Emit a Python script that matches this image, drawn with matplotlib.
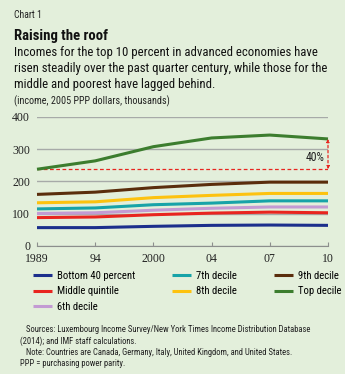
import matplotlib
matplotlib.use('Agg')
import matplotlib.pyplot as plt
from matplotlib import font_manager

years = ['1989', '94', '2000', '04', '07', '10']
series_names = ['Bottom 40 percent', 'Middle quintile', '6th decile',
                '7th decile', '8th decile', '9th decile', 'Top decile']
bottom40 = [57, 57, 61, 64, 65, 64]
middle_q = [88, 90, 97, 102, 105, 103]
decile6 = [101, 103, 111, 117, 121, 121]
decile7 = [115, 118, 128, 133, 140, 140]
decile8 = [134, 137, 150, 157, 163, 163]
decile9 = [160, 167, 181, 191, 198, 198]
top_decile = [238, 264, 308, 335, 344, 332]
series_values = [bottom40, middle_q, decile6, decile7, decile8, decile9, top_decile]
colors = ['#1c2f8c', '#e8251f', '#c39bd3', '#17a3a8', '#fdc20f', '#5a2d0c', '#3c7d2e']
yticks = [0, 100, 200, 300, 400]

bg = '#e3efdb'

names = {f.name for f in font_manager.fontManager.ttflist}


def pick(options):
    for o in options:
        if o in names:
            return o
    return 'DejaVu Sans'


narrow = pick(['Roboto Condensed', 'Archivo Narrow', 'PT Sans Narrow',
               'Liberation Sans Narrow'])
serif = pick(['Roboto Slab', 'Liberation Serif'])

W, H = 345, 374
fig = plt.figure(figsize=(W / 100, H / 100), dpi=100, facecolor=bg)
ax = fig.add_axes([37 / W, 1 - 246 / H, 291 / W, 129 / H])
ax.set_facecolor(bg)

x = list(range(len(years)))
for name, vals, c in zip(series_names, series_values, colors):
    ax.plot(x, vals, color=c, lw=2.2, label=name, solid_capstyle='butt', clip_on=False)

# 40% bracket
ax.axhline(top_decile[0], color='#e8251f', lw=0.9, ls=(0, (3, 2)), zorder=1)
ax.annotate('', xy=(x[-1], top_decile[-1]), xytext=(x[-1], top_decile[0]),
            arrowprops=dict(arrowstyle='<|-|>', color='#e8251f', lw=0.9,
                            ls=(0, (2, 2)), mutation_scale=4, shrinkA=0, shrinkB=0))
ax.text(x[-1] - 0.06, 274, '40%', ha='right', va='center', fontsize=8.5,
        family=narrow, color='#222222')

ax.set_xlim(0, len(years) - 1)
ax.set_ylim(0, 400)
ax.set_yticks(yticks)
ax.set_xticks(x)
ax.set_xticklabels(years)
ax.grid(axis='y', color='#a7aaa8', lw=1.0)
ax.set_axisbelow(True)
for s in ['top', 'right', 'left']:
    ax.spines[s].set_visible(False)
ax.spines['bottom'].set_color('#8c8f8d')
ax.tick_params(axis='y', length=0, pad=5, labelsize=8.5, labelcolor='#222222')
ax.tick_params(axis='x', direction='in', length=3, color='#8c8f8d', pad=5,
               labelsize=8.5, labelcolor='#222222')
for lab in ax.get_xticklabels() + ax.get_yticklabels():
    lab.set_family(serif)

fig.legend(loc='upper left', bbox_to_anchor=(33 / W, 1 - 271 / H), ncol=3,
           frameon=False, handlelength=1.75, handletextpad=0.45,
           columnspacing=3.5, labelspacing=0.5, borderaxespad=0, borderpad=0,
           prop={'family': narrow, 'size': 7.7})

renderer = fig.canvas.get_renderer()


def fit(t, width_px):
    # shrink/grow a text block so its width matches the reference
    w = t.get_window_extent(renderer).width
    t.set_fontsize(t.get_fontsize() * width_px / w)


fig.text(14 / W, 1 - 15 / H, 'Chart 1', fontsize=7, family=narrow,
         va='center', color='#222222')
t = fig.text(14 / W, 1 - 36 / H, 'Raising the roof', fontsize=12, weight='bold',
             family=narrow, va='center', color='#111111')
fit(t, 94)
t = fig.text(14 / W, 1 - 68.5 / H,
             'Incomes for the top 10 percent in advanced economies have\n'
             'risen steadily over the past quarter century, while those for the\n'
             'middle and poorest have lagged behind.',
             fontsize=9.5, family=narrow, va='center', linespacing=1.3, color='#111111')
fit(t, 316)
t = fig.text(14 / W, 1 - 101 / H, '(income, 2005 PPP dollars, thousands)',
             fontsize=7.5, family=narrow, va='center', color='#222222')
fit(t, 154)
t = fig.text(20 / W, 1 - 346.5 / H,
             '   Sources: Luxembourg Income Survey/New York Times Income Distribution Database\n'
             '(2014); and IMF staff calculations.\n'
             '   Note: Countries are Canada, Germany, Italy, United Kingdom, and United States.\n'
             'PPP = purchasing power parity.',
             fontsize=6.3, family=narrow, va='center', linespacing=1.3, color='#222222')
fit(t, 292)

fig.savefig('out.png', dpi=100, facecolor=bg)
